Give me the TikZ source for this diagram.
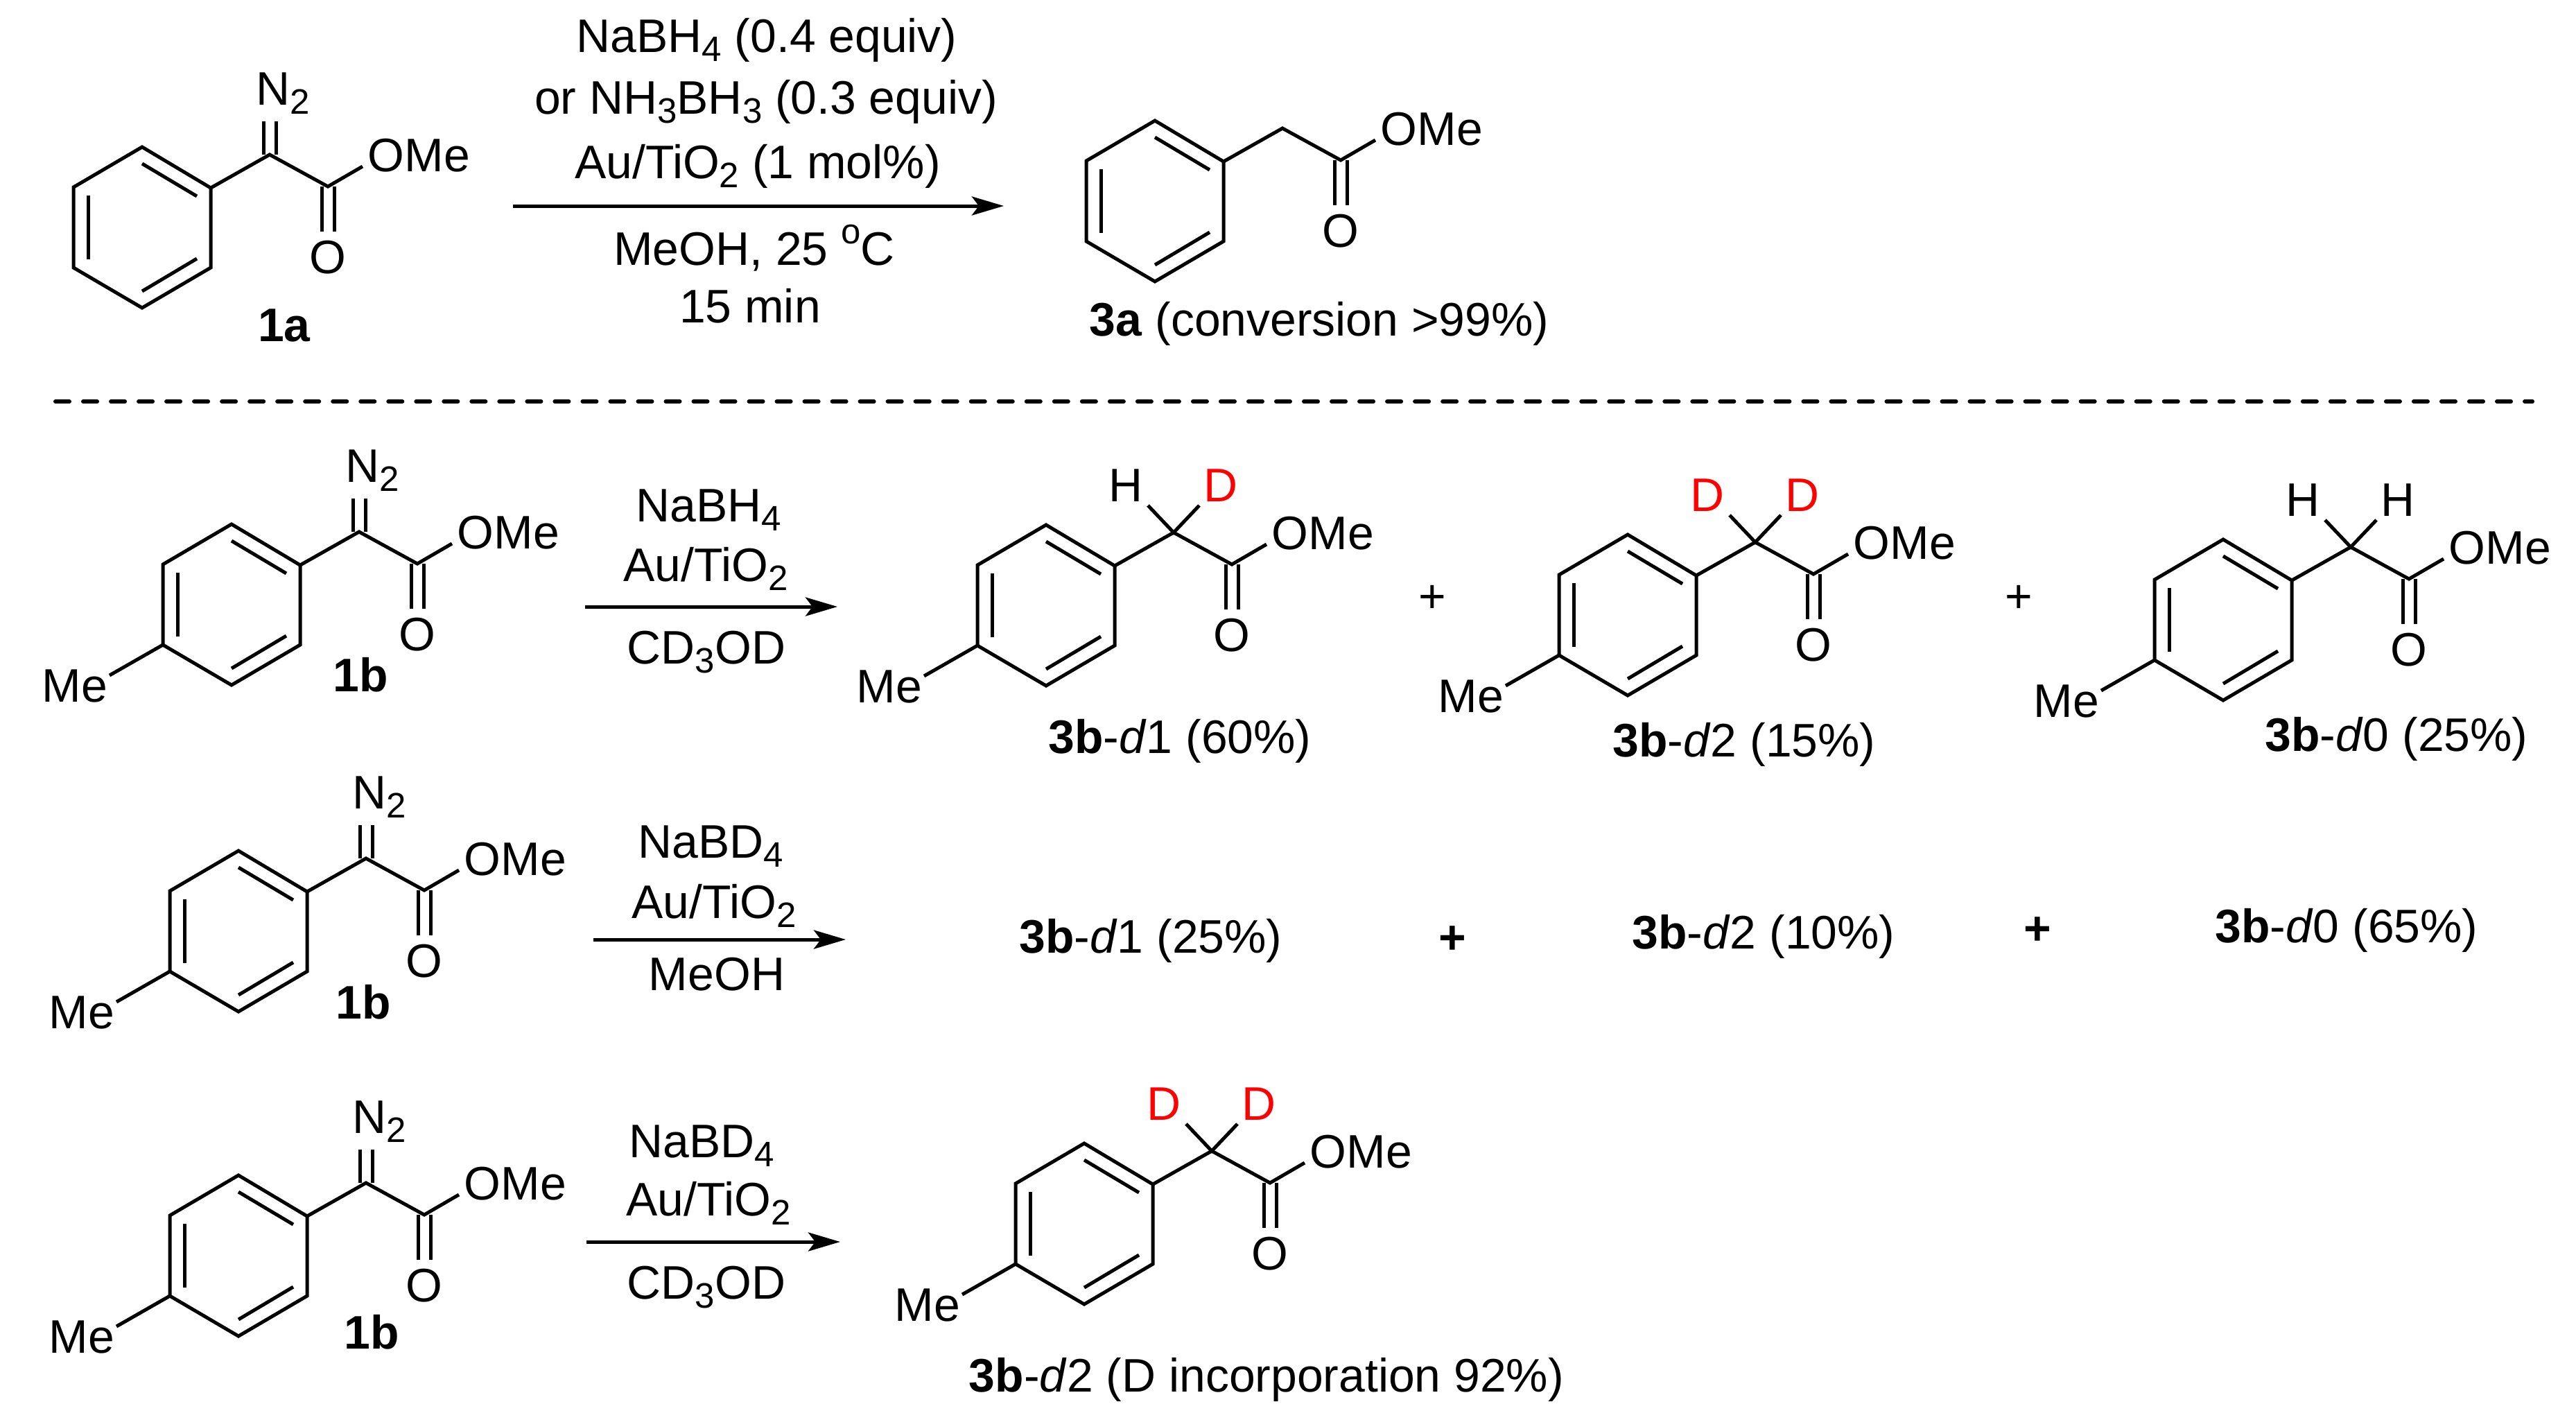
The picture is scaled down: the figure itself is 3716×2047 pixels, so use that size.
\documentclass[tikz,border=0pt]{standalone}
\usepackage{fontspec}
\setmainfont{Liberation Sans}
\usetikzlibrary{arrows.meta}
\newcommand{\subs}[1]{\raisebox{-0.2em}{\fontsize{14.5pt}{14.5pt}\selectfont #1}}
\newcommand{\sups}[1]{\raisebox{0.45em}{\fontsize{14.5pt}{14.5pt}\selectfont #1}}
\newcommand{\deut}{\textcolor{red}{D}}
\tikzset{
 chemtxt/.style={font=\fontsize{19.3pt}{22pt}\selectfont, inner sep=0pt, anchor=base},
 bond/.style={line width=0.05cm, line join=miter},
 rxnarrow/.style={line width=0.05cm, -{Stealth[length=0.46cm,width=0.27cm,inset=0.1cm]}},
 divider/.style={line width=0.06cm, line cap=round, dash pattern=on 0.2cm off 0.2cm}
}
\newcommand{\estermol}[3]{
 \begin{scope}[shift={(#2,#3)}]
 \draw[bond] (0,0) -- (99,59) -- (99,174) -- (0,232) -- (-99,174) -- (-99,58) -- cycle;
 \draw[bond] (0,24) -- (79,71);
 \draw[bond] (-78,70) -- (-78,162);
 \draw[bond] (0,208) -- (79,161);
 \draw[bond] (99,59) -- (184,11) -- (268,57) -- (318,28);
 \draw[bond] (259,57) -- (259,122);
 \draw[bond] (277,57) -- (277,122);
 \node[chemtxt, anchor=base west] (#1ome) at (325,35) {OMe};
 \node[chemtxt] (#1o) at (268,182) {O};
 \end{scope}
}
\newcommand{\tolylme}[3]{
 \begin{scope}[shift={(#2,#3)}]
 \draw[bond] (-99,174) -- (-176,218);
 \node[chemtxt] (#1me) at (-226,256) {Me};
 \end{scope}
}
\newcommand{\diazo}[3]{
 \begin{scope}[shift={(#2,#3)}]
 \draw[bond] (175,11) -- (175,-37);
 \draw[bond] (193,11) -- (193,-37);
 \node[chemtxt, anchor=base west] (#1nn) at (164,-61) {N\subs{2}};
 \end{scope}
}
\newcommand{\methylene}[5]{
 \begin{scope}[shift={(#2,#3)}]
 \draw[bond] (147,-28) -- (184,11) -- (221,-28);
 \node[chemtxt] (#1left) at (115,-34) {#4};
 \node[chemtxt] (#1right) at (252,-34) {#5};
 \end{scope}
}
\begin{document}
\begin{tikzpicture}[x=0.01cm,y=-0.01cm]
 \useasboundingbox (0,0) rectangle (3716,2047);
 \estermol{sma}{205}{212}
 \diazo{sma}{205}{212}
 \node[chemtxt] (labela) at (410,492) {\textbf{1a}};
 \node[chemtxt] (reaa) at (1106,75) {NaBH\subs{4} (0.4 equiv)};
 \node[chemtxt] (reab) at (1105,164) {or NH\subs{3}BH\subs{3} (0.3 equiv)};
 \node[chemtxt] (reac) at (1093,257) {Au/TiO\subs{2} (1 mol\%)};
 \node[chemtxt] (read) at (1088,382) {MeOH, 25 \sups{o}C};
 \node[chemtxt] (reae) at (1082,465) {15 min};
 \coordinate (arra) at (740,297);
 \coordinate (arrb) at (1448,297);
 \draw[rxnarrow] (arra) -- (arrb);
 \estermol{pra}{1666}{174}
 \node[chemtxt] (labelpa) at (1903,484) {\textbf{3a} (conversion >99\%)};
 \coordinate (dashl) at (80,579);
 \coordinate (dashr) at (3653,579);
 \draw[divider] (dashl) -- (dashr);
 \estermol{smb}{334}{756}
 \diazo{smb}{334}{756}
 \tolylme{smb}{334}{756}
 \node[chemtxt] (labelb) at (520,997) {\textbf{1b}};
 \node[chemtxt] (reba) at (1022,752) {NaBH\subs{4}};
 \node[chemtxt] (rebb) at (1018,838) {Au/TiO\subs{2}};
 \node[chemtxt] (rebc) at (1019,957) {CD\subs{3}OD};
 \coordinate (arrc) at (844,875);
 \coordinate (arrd) at (1208,875);
 \draw[rxnarrow] (arrc) -- (arrd);
 \estermol{prb}{1509}{757}
 \tolylme{prb}{1509}{757}
 \methylene{prb}{1509}{757}{H}{\deut}
 \node[chemtxt] (labelpb) at (1702,1086) {\textbf{3b}-\textit{d}1 (60\%)};
 \node[chemtxt] (plusa) at (2066,883) {+};
 \estermol{prc}{2348}{771}
 \tolylme{prc}{2348}{771}
 \methylene{prc}{2348}{771}{\deut}{\deut}
 \node[chemtxt] (labelpc) at (2516,1091) {\textbf{3b}-\textit{d}2 (15\%)};
 \node[chemtxt] (plusb) at (2912,883) {+};
 \estermol{prd}{3207}{778}
 \tolylme{prd}{3207}{778}
 \methylene{prd}{3207}{778}{H}{H}
 \node[chemtxt] (labelpd) at (3457,1083) {\textbf{3b}-\textit{d}0 (25\%)};
 \estermol{sme}{344}{1227}
 \diazo{sme}{344}{1227}
 \tolylme{sme}{344}{1227}
 \node[chemtxt] (labele) at (524,1469) {\textbf{1b}};
 \node[chemtxt] (reca) at (1025,1237) {NaBD\subs{4}};
 \node[chemtxt] (recb) at (1030,1324) {Au/TiO\subs{2}};
 \node[chemtxt] (recc) at (1034,1428) {MeOH};
 \coordinate (arre) at (856,1355);
 \coordinate (arrf) at (1220,1355);
 \draw[rxnarrow] (arre) -- (arrf);
 \node[chemtxt] (labelqa) at (1660,1374) {\textbf{3b}-\textit{d}1 (25\%)};
 \node[chemtxt] (plusc) at (2095,1375) {\textbf{+}};
 \node[chemtxt] (labelqb) at (2544,1368) {\textbf{3b}-\textit{d}2 (10\%)};
 \node[chemtxt] (plusd) at (2939,1362) {\textbf{+}};
 \node[chemtxt] (labelqc) at (3385,1359) {\textbf{3b}-\textit{d}0 (65\%)};
 \estermol{smf}{344}{1695}
 \diazo{smf}{344}{1695}
 \tolylme{smf}{344}{1695}
 \node[chemtxt] (labelf) at (536,1945) {\textbf{1b}};
 \node[chemtxt] (reda) at (1012,1669) {NaBD\subs{4}};
 \node[chemtxt] (redb) at (1022,1753) {Au/TiO\subs{2}};
 \node[chemtxt] (redc) at (1019,1873) {CD\subs{3}OD};
 \coordinate (arrg) at (846,1791);
 \coordinate (arrh) at (1212,1791);
 \draw[rxnarrow] (arrg) -- (arrh);
 \estermol{prf}{1564}{1649}
 \tolylme{prf}{1564}{1649}
 \methylene{prf}{1564}{1649}{\deut}{\deut}
 \node[chemtxt] (labelpf) at (1827,2007) {\textbf{3b}-\textit{d}2 (D incorporation 92\%)};
\end{tikzpicture}
\end{document}
